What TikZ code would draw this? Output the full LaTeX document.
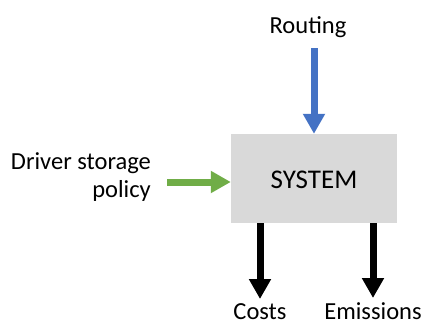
\documentclass[tikz,border=0pt]{standalone}
\usepackage{fontspec}
\setmainfont{Carlito}
\usetikzlibrary{arrows.meta}
\definecolor{boxgray}{HTML}{D9D9D9}
\definecolor{inblue}{HTML}{4472C4}
\definecolor{ingreen}{HTML}{70AD47}
\begin{document}
\begin{tikzpicture}[x=1pt,y=-1pt,
  lbl/.style={inner sep=0pt,anchor=base,font=\fontsize{24.5}{28}\selectfont},
  flow/.style={line width=7pt,-{Triangle[width=21pt,length=20pt]}},
  sysbox/.style={fill=boxgray,draw=none,minimum width=166pt,minimum height=89pt,inner sep=0pt}]
\useasboundingbox (0,0) rectangle (421,324);
% central block
\node[sysbox] (sys) at (314,178.5) {};
\node[lbl,font=\fontsize{27}{30}\selectfont] (systxt) at (314,188) {SYSTEM};
% labels
\node[lbl] (routing) at (308,33) {Routing};
\node[lbl,anchor=base east,align=right] (driver) at (151,197) {Driver storage\\policy};
\node[lbl] (costs) at (260,319) {Costs};
\node[lbl] (emis) at (373,319) {Emissions};
% arrow ends
\coordinate (rt) at (314,48);
\coordinate (gr) at (167,182);
\coordinate (ce) at (260,299);
\coordinate (ee) at (373,298);
% arrows
\draw[flow,draw=inblue,fill=inblue] (rt) -- (rt |- sys.north);
\draw[flow,draw=ingreen,fill=ingreen] (gr) -- (gr -| sys.west);
\draw[flow] (ce |- sys.south) -- (ce);
\draw[flow] (ee |- sys.south) -- (ee);
\end{tikzpicture}
\end{document}
